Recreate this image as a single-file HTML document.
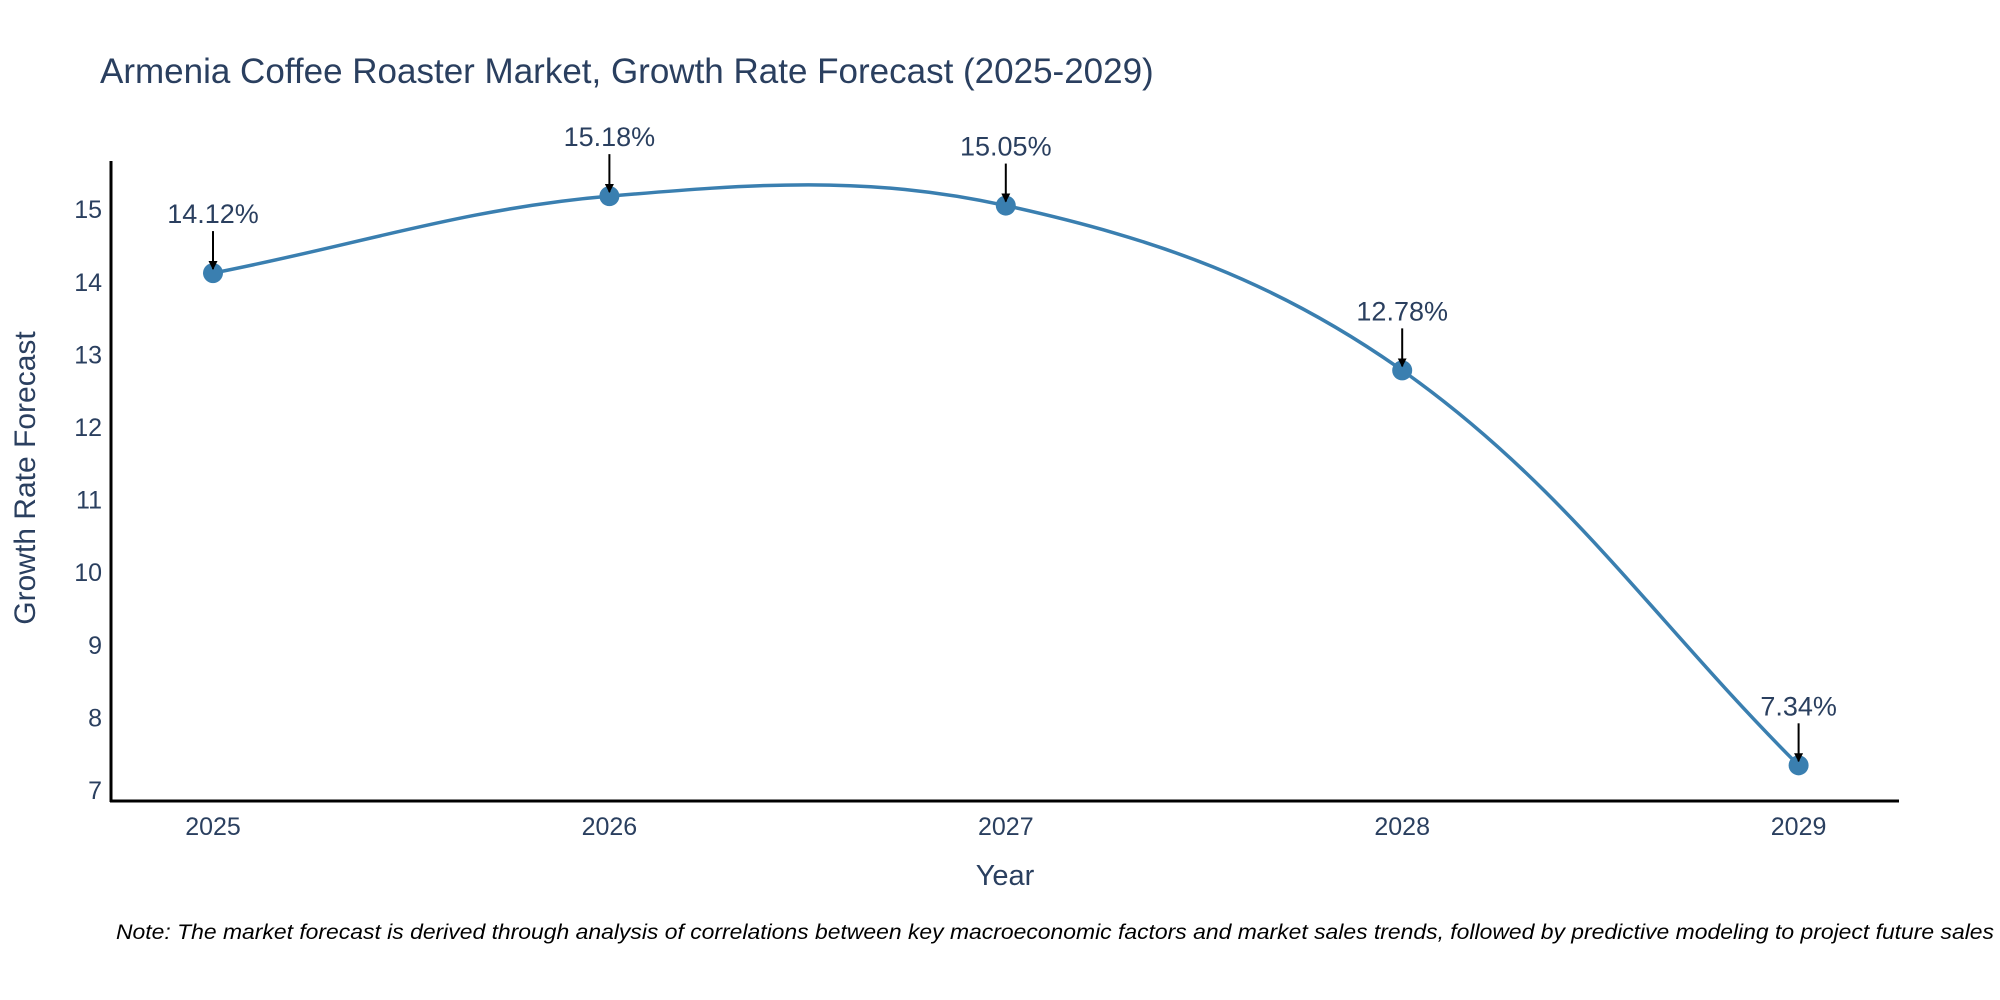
<!DOCTYPE html>
<html><head><meta charset="utf-8"><style>
html,body{margin:0;padding:0;background:#fff}
svg{display:block;font-family:"Liberation Sans",sans-serif}
</style></head><body>
<svg id="chart" width="2000" height="1000" viewBox="0 0 2000 1000">
<defs><marker id="ah" viewBox="0 0 10 10" refX="9" refY="5" markerWidth="4.5" markerHeight="4.5" orient="auto"><path d="M0,0 L10,5 L0,10 z" fill="#000"/></marker></defs>
<text x="100" y="83" font-size="35" fill="#2a3f5f">Armenia Coffee Roaster Market, Growth Rate Forecast (2025-2029)</text>
<g id="yticks"></g>
<g id="xticks"></g>
<line x1="111" y1="161" x2="111" y2="802" stroke="#000" stroke-width="3"/>
<line x1="110" y1="801" x2="1899" y2="801" stroke="#000" stroke-width="3"/>
<path id="line" fill="none" stroke="#3a7fb0" stroke-width="3.5"/>
<g id="points"></g>
<g id="annots"></g>
<text x="1005" y="885" font-size="29" fill="#2a3f5f" text-anchor="middle">Year</text>
<text transform="translate(35,478) rotate(-90)" font-size="30" fill="#2a3f5f" text-anchor="middle">Growth Rate Forecast</text>
<text x="116" y="939" font-size="21" font-style="italic" fill="#000" textLength="1878" lengthAdjust="spacingAndGlyphs">Note: The market forecast is derived through analysis of correlations between key macroeconomic factors and market sales trends, followed by predictive modeling to project future sales</text>
</svg>
<script>
const years = ["2025","2026","2027","2028","2029"];
const values = [14.12, 15.18, 15.05, 12.78, 7.34];
const labels = ["14.12%","15.18%","15.05%","12.78%","7.34%"];
const yTicks = [7,8,9,10,11,12,13,14,15];
const NS = "http://www.w3.org/2000/svg";
function xs(i){return 213 + i*396.4;}
function ys(v){return 790 - (v-7)*72.6;}
function mk(tag, attrs, parent){const e=document.createElementNS(NS,tag);for(const k in attrs)e.setAttribute(k,attrs[k]);parent.appendChild(e);return e;}
const yg=document.getElementById('yticks');
yTicks.forEach(t=>{
  const e=mk('text',{x:102,y:ys(t)+9,'font-size':25,fill:'#2a3f5f','text-anchor':'end'},yg);
  
  
  e.textContent=t;
});
const xg=document.getElementById('xticks');
years.forEach((y,i)=>{
  const e=mk('text',{x:xs(i),y:835,'font-size':25,fill:'#2a3f5f','text-anchor':'middle'},xg);
  
  
  e.textContent=y;
});
const pts=values.map((v,i)=>[xs(i),ys(v)]);
function dist(a,b){return Math.hypot(a[0]-b[0],a[1]-b[1]);}
let d='M'+pts[0][0]+','+pts[0][1];
for(let i=0;i<pts.length-1;i++){
  const p0=pts[Math.max(0,i-1)],p1=pts[i],p2=pts[i+1],p3=pts[Math.min(pts.length-1,i+2)];
  const seg=dist(p1,p2);
  const ta=[p2[0]-p0[0],p2[1]-p0[1]],la=Math.hypot(ta[0],ta[1]);
  const tb=[p3[0]-p1[0],p3[1]-p1[1]],lb=Math.hypot(tb[0],tb[1]);
  const k=0.36;
  const c1=[p1[0]+ta[0]/la*seg*k,p1[1]+ta[1]/la*seg*k];
  const c2=[p2[0]-tb[0]/lb*seg*k,p2[1]-tb[1]/lb*seg*k];
  d+=' C'+c1+' '+c2+' '+p2;
}
document.getElementById('line').setAttribute('d',d);
const pg=document.getElementById('points'),ag=document.getElementById('annots');
pts.forEach((p,i)=>{
  const c=mk('circle',{cx:p[0],cy:p[1],r:10,fill:'#3a7fb0'},pg);
  
  
  const l=mk('line',{x1:p[0],y1:p[1]-42,x2:p[0],y2:p[1]-4,stroke:'#000','stroke-width':2,'marker-end':'url(#ah)'},ag);
  
  
  const t=mk('text',{x:p[0],y:p[1]-50,'font-size':27,fill:'#2a3f5f','text-anchor':'middle'},ag);
  
  
  t.textContent=labels[i];
});
</script>
</body></html>
